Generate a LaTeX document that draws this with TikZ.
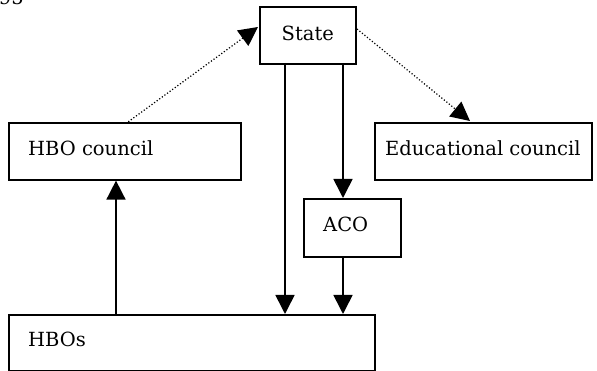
\documentclass[tikz,border=0pt]{standalone}
\usepackage{fontspec}
\setmainfont{DejaVu Serif}
\usetikzlibrary{arrows.meta}
\begin{document}
\begin{tikzpicture}[x=1pt, y=-1pt,
  box/.style={draw, line width=1.6pt, inner sep=0pt, anchor=north west},
  txt/.style={font=\fontsize{19.5}{22}\selectfont, inner sep=0pt},
  link/.style={line width=1.6pt, -{Triangle[length=19pt, width=19pt]}},
  dotlink/.style={line width=1.2pt, dotted, {Triangle[length=19pt, width=19pt]}-}]
\useasboundingbox (0,0) rectangle (597,371);
\clip (0,0) rectangle (597,371);
\node[txt, anchor=base east] (year) at (24,5) {995};
% boxes
\node[box, minimum width=96, minimum height=57] (state) at (259,6) {};
\node[txt] (statetxt) at ([yshift=2pt]state.center) {State};
\node[box, minimum width=232, minimum height=57] (hbocouncil) at (8,122) {};
\node[txt, anchor=west] (hbocounciltxt) at ([xshift=20pt, yshift=3pt]hbocouncil.west) {HBO council};
\node[box, minimum width=217, minimum height=57] (educouncil) at (374,122) {};
\node[txt, anchor=west] (educounciltxt) at ([xshift=11pt, yshift=3pt]educouncil.west) {Educational council};
\node[box, minimum width=97, minimum height=58] (aco) at (303,198) {};
\node[txt, anchor=west] (acotxt) at ([xshift=20pt, yshift=3pt]aco.west) {ACO};
\node[box, minimum width=366, minimum height=56] (hbos) at (8,314) {};
\node[txt, anchor=west] (hbostxt) at ([xshift=20pt, yshift=3pt]hbos.west) {HBOs};
% arrows
\coordinate (s1) at (285,63);
\coordinate (s2) at (343,63);
\draw[link] (s1) -- (s1 |- hbos.north);
\draw[link] (s2) -- (s2 |- aco.north);
\draw[link] (aco.south -| s2) -- (s2 |- hbos.north);
\draw[link] (hbos.north -| 116,0) -- (hbocouncil.south -| 116,0);
\coordinate (dl) at (258,27);
\coordinate (dr) at (357,29);
\coordinate (de) at (470,121);
\draw[dotlink] (dl) -- (hbocouncil.north -| 128,0);
\draw[dotlink, -{Triangle[length=19pt, width=19pt]}] (dr) -- (de);
\end{tikzpicture}
\end{document}
